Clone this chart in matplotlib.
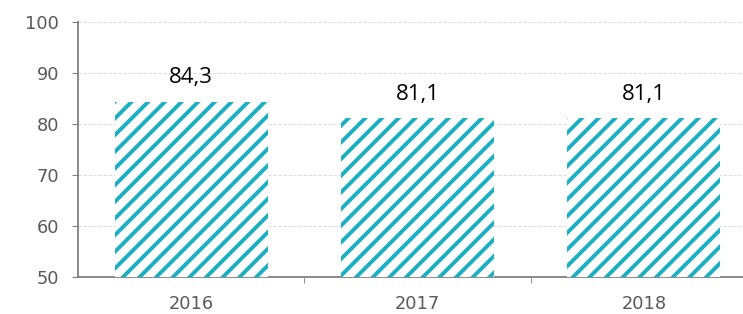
import matplotlib
matplotlib.use("Agg")
import matplotlib.pyplot as plt
import numpy as np

categories = ["2016", "2017", "2018"]
values = [84.3, 81.1, 81.1]
labels = ["84,3", "81,1", "81,1"]
yticks = [50, 60, 70, 80, 90, 100]

plt.rcParams['font.family'] = ['DejaVu Sans']
plt.rcParams['hatch.linewidth'] = 2.8
plt.rcParams['hatch.color'] = '#1BAFC3'

fig = plt.figure(figsize=(7.43, 3.14), dpi=100)
ax = fig.add_axes([78/743, 37/314, (757-78)/743, (277-22)/314])

x = np.arange(len(categories))
ax.bar(x, np.array(values) - 50, bottom=50, width=0.675, color='white',
       edgecolor='#1BAFC3', linewidth=0, hatch='//', zorder=3)
for xi, v, lab in zip(x, values, labels):
    ax.text(xi, v + 3.7, lab, ha='center', va='baseline', fontsize=16,
            color='black', family=['Open Sans', 'DejaVu Sans'])

ax.set_xlim(-0.5, 2.5)
ax.set_ylim(50, 100)
ax.set_yticks(yticks)
ax.set_yticklabels([str(t) for t in yticks], fontsize=12.8, color='#595959')
ax.set_xticks(x)
ax.set_xticklabels(categories, fontsize=12.8, color='#595959')
ax.set_xticks([0.5, 1.5], minor=True)
ax.tick_params(axis='x', which='major', length=0, pad=13)
ax.tick_params(axis='x', which='minor', length=4.5, color='#808080', direction='out')
ax.tick_params(axis='y', length=4.5, color='#808080', pad=9)
ax.grid(axis='y', color='#DDDDDD', linewidth=0.8, linestyle=(0, (3, 1.5)), zorder=0)
for s in ['top', 'right']:
    ax.spines[s].set_visible(False)
for s in ['left', 'bottom']:
    ax.spines[s].set_color('#808080')
    ax.spines[s].set_linewidth(1.3)

fig.savefig("out.png", dpi=100)
